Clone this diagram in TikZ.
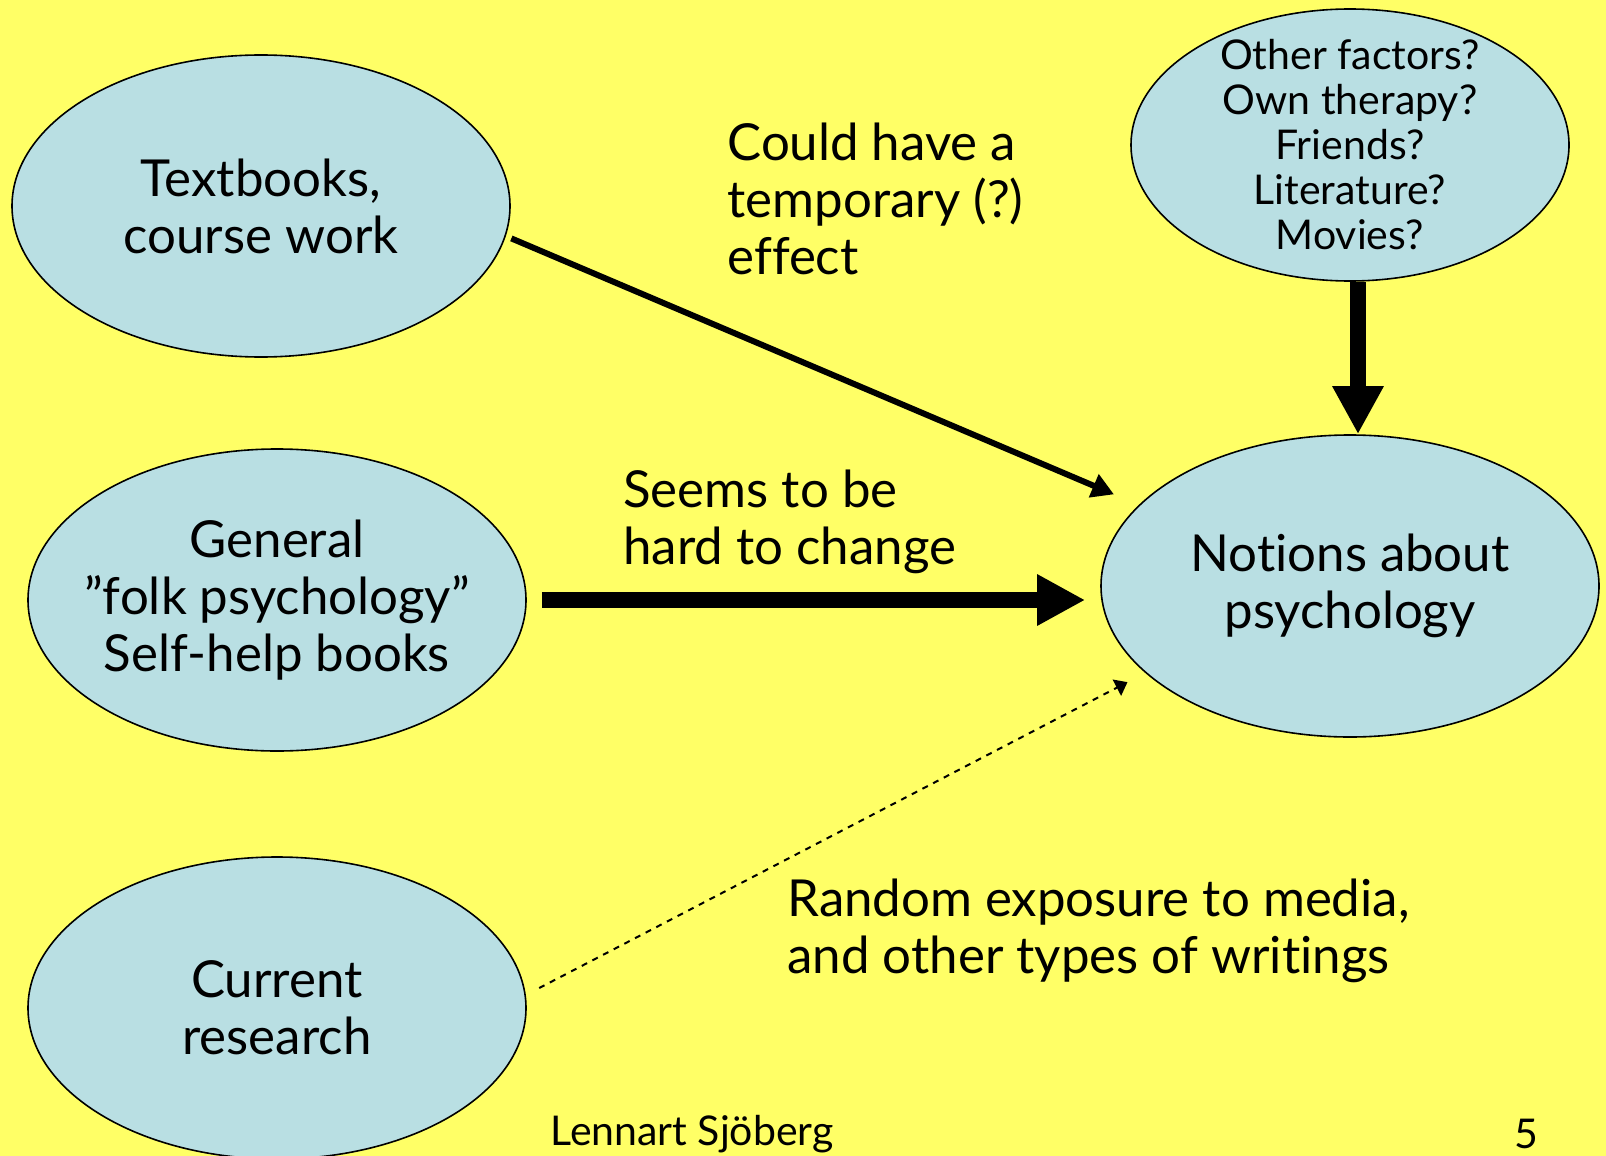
\documentclass[tikz,border=0pt]{standalone}
\usepackage{fontspec}
\setmainfont{Lato}[Ligatures={NoCommon}]
\usepackage{tikz}
\usetikzlibrary{positioning}
\usetikzlibrary{shapes.geometric}
\usetikzlibrary{arrows.meta}
\definecolor{slideyellow}{HTML}{FFFF66}
\definecolor{bubbleblue}{HTML}{B9DFE3}

\begin{document}
\begin{tikzpicture}[x=0.5pt,y=-0.5pt,
		bubbleshape/.style={fill = bubbleblue, draw, ellipse, line width=0.8pt, inner sep=0pt},
		big/.style={font=\fontsize{25.5}{28.5}\selectfont},
		small/.style={inner sep=0pt, font=\fontsize{20.5}{22.5}\selectfont},
		bubble/.style={bubbleshape, minimum width = 249pt, minimum height = 151pt, label={[align=center, big]center:#1}},
		smallbubble/.style={bubbleshape, minimum width = 219pt, minimum height = 136pt, label={[align=center, small]center:#1}},
		note/.style={big, align=left, anchor=west, inner sep=0pt}]
		\fill[slideyellow] (0,0) rectangle (1606,1156);
		\useasboundingbox (0,0) rectangle (1606,1156);
		\clip (0,0) rectangle (1606,1156);
		\node[bubble={Textbooks,\\course work}] at (261,206) (tb) {};
		\node[bubble={General\\''folk psychology''\\Self-help books}] at (277,600) (gen) {};
		\node[bubble={Current\\research}] at (277,1008) (cr) {};
		\node[bubble={Notions about\\psychology}] at (1350,586) (notions) {};
		\node[smallbubble={Other factors?\\Own therapy?\\Friends?\\Literature?\\Movies?}] at (1350,145) (other) {};
		\node[note] at (727,199) (effect) {Could have a\\temporary (?)\\effect};
		\node[note] at (623,522) (hard) {Seems to be\\hard to change};
		\node[note] at (787,931) (media) {Random exposure to media,\\and other types of writings};
		\node[small, anchor=west] at (550,1134) (author) {Lennart Sjöberg};
		\node[small] at (1526,1134) (page) {5};
		\draw[line width=3pt, -{Triangle[length=11pt,width=12pt]}, shorten <=3pt, shorten >=13.5pt] (tb.-7) to (notions.159);
		\draw[line width=7.75pt, -{Triangle[length=24pt,width=24pt]}, shorten <=7.5pt, shorten >=7.5pt] (gen.east) to (gen.east -| notions.west);
		\draw[line width=8pt, -{Triangle[length=24pt,width=24pt]}] ([xshift=4pt]other.south) to ([xshift=4pt]notions.north);
		\draw[line width=1pt, dash pattern=on 3pt off 3pt, -{Triangle[length=6pt,width=9pt]}, shorten <=7.5pt, shorten >=10pt] (cr.3) to (notions.-157);
	\end{tikzpicture}
\end{document}
